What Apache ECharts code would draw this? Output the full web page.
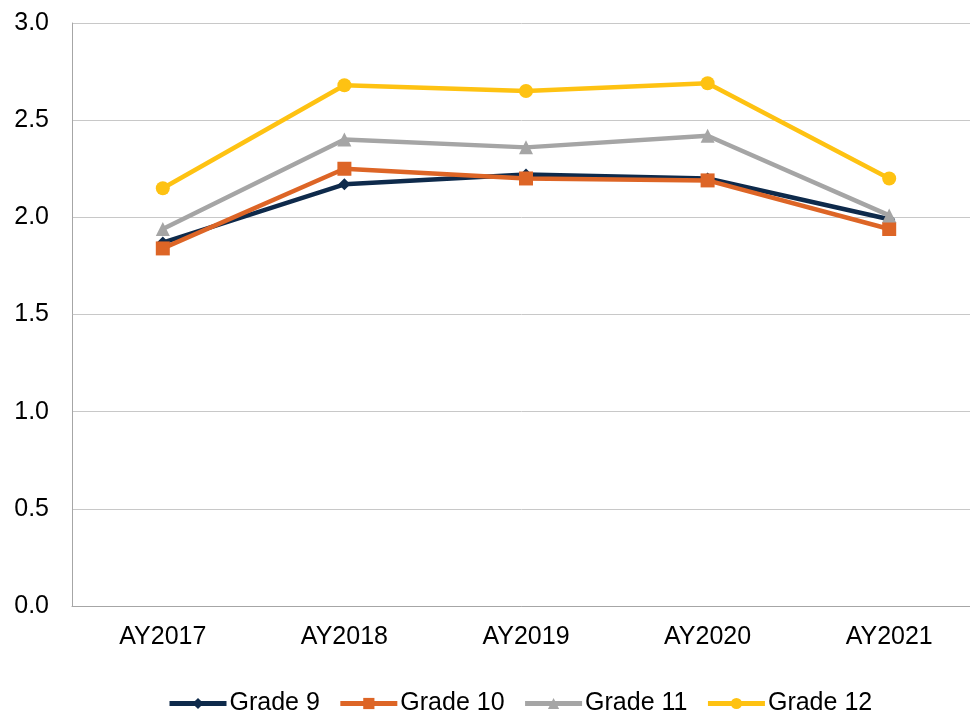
<!DOCTYPE html>
<html>
<head>
<meta charset="utf-8">
<script src="https://cdn.jsdelivr.net/npm/echarts@6/dist/echarts.min.js"></script>
<style>
  html, body { margin: 0; padding: 0; background: #fff; }
  #main { width: 970px; height: 713px; }
</style>
</head>
<body>
<div id="main"></div>
<script>
var years = ['AY2017', 'AY2018', 'AY2019', 'AY2020', 'AY2021'];
var grade9 = [1.87, 2.17, 2.22, 2.20, 1.99];
var grade10 = [1.84, 2.25, 2.20, 2.19, 1.94];
var grade11 = [1.94, 2.40, 2.36, 2.42, 2.01];
var grade12 = [2.15, 2.68, 2.65, 2.69, 2.20];

var chart = echarts.init(document.getElementById('main'));

function line(name, data, color, symbol, size) {
  return {
    name: name,
    type: 'line',
    data: data,
    symbol: symbol,
    symbolSize: size,
    showAllSymbol: true,
    lineStyle: { width: 4.5, color: color },
    itemStyle: { color: color },
    emphasis: { disabled: true }
  };
}

var option = {
  animation: false,
  textStyle: { fontFamily: 'Liberation Sans, Arial, sans-serif' },
  grid: {
    left: 72, width: 908, top: 23, height: 583,
    containLabel: false,
    outerBoundsMode: 'none'
  },
  legend: {
    top: 686,
    left: 162,
    itemWidth: 57,
    itemHeight: 14,
    itemGap: 18,
    lineStyle: { width: 5 },
    textStyle: { fontSize: 25, color: '#000', padding: [0, 0, 0, -2] },
    data: ['Grade 9', 'Grade 10', 'Grade 11', 'Grade 12']
  },
  xAxis: {
    type: 'category',
    data: years,
    boundaryGap: true,
    axisLine: { lineStyle: { color: '#a6a6a6', width: 1 } },
    axisTick: { show: false },
    axisLabel: { color: '#000', fontSize: 25, margin: 19 }
  },
  yAxis: {
    type: 'value',
    min: 0,
    max: 3,
    interval: 0.5,
    axisLine: { show: true, lineStyle: { color: '#a6a6a6', width: 1 } },
    axisTick: { show: false },
    splitLine: { lineStyle: { color: '#c8c8c8', width: 1 } },
    axisLabel: {
      color: '#000',
      fontSize: 25,
      margin: 23,
      formatter: function (v) { return v.toFixed(1); }
    }
  },
  series: [
    line('Grade 9', grade9, '#0e2a4b', 'diamond', 12),
    line('Grade 10', grade10, '#dd6526', 'rect', 14),
    line('Grade 11', grade11, '#a5a5a5', 'triangle', 14),
    line('Grade 12', grade12, '#fec212', 'circle', 14)
  ]
};

chart.setOption(option);
</script>
</body>
</html>
